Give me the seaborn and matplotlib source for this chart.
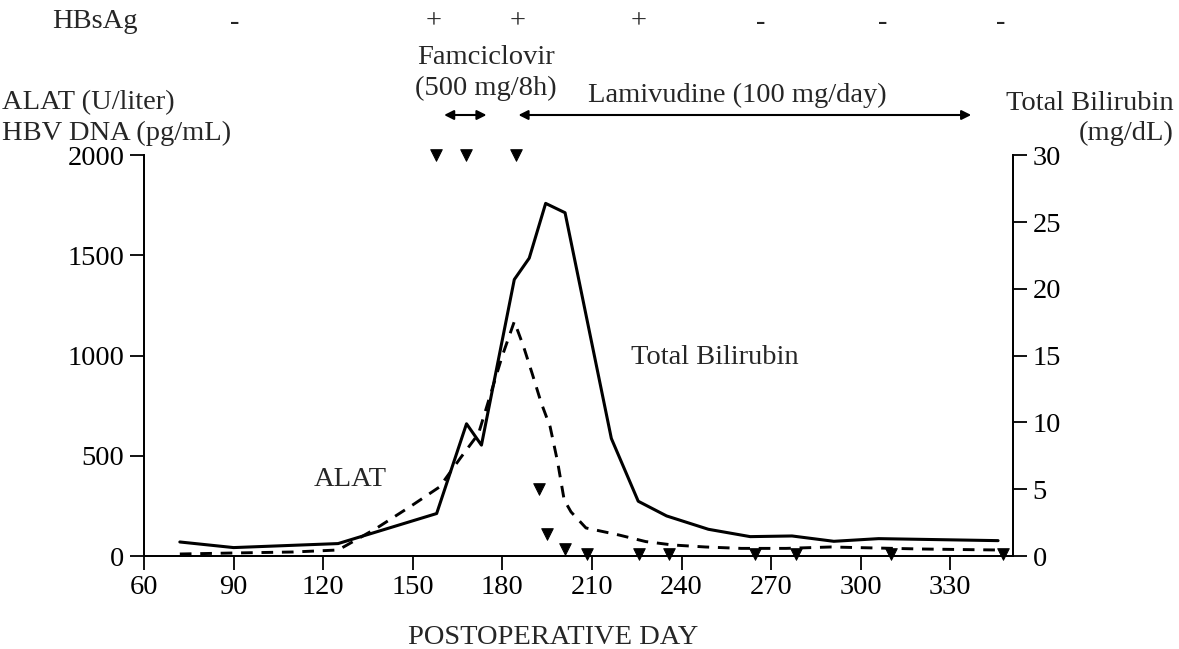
import numpy as np
import pandas as pd
import matplotlib
matplotlib.use('Agg')
import matplotlib.pyplot as plt
import seaborn as sns

# values
# total bilirubin (mg/dL, right axis)
bili_days = [72, 90, 125, 158, 168, 173, 184, 189, 194.5, 201, 216.5, 225.5, 235, 249, 263, 277, 291, 306, 346]
bili_vals = [1.05, 0.63, 0.93, 3.18, 9.9, 8.3, 20.7, 22.3, 26.4, 25.7, 8.8, 4.1, 3.0, 2.0, 1.45, 1.5, 1.1, 1.3, 1.15]

# ALAT (U/liter, left axis)
alat_days = [72, 90, 110, 125, 128, 138, 150, 159, 166, 172, 180, 184, 187, 190, 193, 196, 198.5, 200.7,
             203, 208, 219, 228, 237, 248, 260, 275, 290, 305, 320, 335, 346]
alat_vals = [10, 15, 20, 30, 55, 140, 255, 345, 490, 610, 1000, 1170, 1050, 910, 765, 645, 470, 280,
             220, 140, 105, 72, 55, 45, 38, 38, 45, 40, 35, 32, 30]

# HBV DNA (pg/mL, left axis)
dna_days = [157.7, 167.7, 184.5, 192.2, 195.1, 201, 208.2, 225.8, 235.9, 264.7, 278.3, 310.3, 347.5]
dna_vals = [2000, 2000, 2000, 333, 110, 35, 12, 12, 12, 12, 12, 12, 12]

# HBsAg status row
hbsag_days = [90.5, 157, 185, 225.5, 266.5, 307.5, 347]
hbsag_signs = ['-', '+', '+', '+', '-', '-', '-']

x_ticks = list(range(60, 331, 30))
left_ticks = [0, 500, 1000, 1500, 2000]
right_ticks = [0, 5, 10, 15, 20, 25, 30]

sns.set_theme(style='ticks')
plt.rcParams['font.family'] = ['Liberation Serif', 'DejaVu Serif']
fs = 20.5
W, H = 1179, 649

fig = plt.figure(figsize=(W / 100, H / 100), dpi=100)
ax = fig.add_axes([144 / W, 93 / H, 869 / W, 400.7 / H])
ax2 = ax.twinx()

sns.lineplot(x=alat_days, y=alat_vals, ax=ax, color='black', lw=2.1,
             linestyle=(0, (4, 3)), estimator=None, sort=False)
sns.scatterplot(x=dna_days, y=dna_vals, ax=ax, marker='v', s=70, color='black',
                edgecolor='black', clip_on=False, zorder=5)
sns.lineplot(x=bili_days, y=bili_vals, ax=ax2, color='black', lw=2.2,
             estimator=None, sort=False)

ax.set_xlim(60, 351)
ax.set_ylim(0, 2000)
ax2.set_ylim(0, 30)
ax.set_xticks(x_ticks)
ax.set_yticks(left_ticks)
ax2.set_yticks(right_ticks)
ax.set_xlabel('')
ax.set_ylabel('')
ax2.set_ylabel('')

for a in (ax, ax2):
    a.spines['top'].set_visible(False)
    for s in a.spines.values():
        s.set_linewidth(1.3)
        s.set_color('black')
    a.tick_params(direction='out', length=10, width=1.3, labelsize=fs, colors='black', pad=4)

# header texts
def px(x):
    return x / W

def py(y):
    return 1 - y / H

fig.text(px(95), py(22), 'HBsAg', ha='center', va='center', fontsize=fs)
tr = ax.get_xaxis_transform()
for d, s in zip(hbsag_days, hbsag_signs):
    ax.text(d, (556 - 22) / 400.7, s, transform=tr, ha='center', va='center', fontsize=fs)

fig.text(px(486), py(57), 'Famciclovir', ha='center', va='center', fontsize=fs)
fig.text(px(486), py(88), '(500 mg/8h)', ha='center', va='center', fontsize=fs)
fig.text(px(2), py(103), 'ALAT (U/liter)', ha='left', va='center', fontsize=fs)
fig.text(px(2), py(133), 'HBV DNA (pg/mL)', ha='left', va='center', fontsize=fs)
fig.text(px(737), py(95), 'Lamivudine (100 mg/day)', ha='center', va='center', fontsize=fs)
fig.text(px(1174), py(103), 'Total Bilirubin', ha='right', va='center', fontsize=fs)
fig.text(px(1126), py(133), '(mg/dL)', ha='center', va='center', fontsize=fs)
fig.text(px(553), py(637), 'POSTOPERATIVE DAY', ha='center', va='center', fontsize=fs)

# treatment arrows
arrow_y = (556 - 115) / 400.7
ax.annotate('', xy=(160.5, arrow_y), xytext=(174.7, arrow_y), xycoords=tr, textcoords=tr,
            arrowprops=dict(arrowstyle='<|-|>', lw=1.5, color='black', mutation_scale=14,
                            shrinkA=0, shrinkB=0))
ax.annotate('', xy=(185.4, arrow_y), xytext=(337, arrow_y), xycoords=tr, textcoords=tr,
            arrowprops=dict(arrowstyle='<|-|>', lw=1.5, color='black', mutation_scale=14,
                            shrinkA=0, shrinkB=0))

# series labels
ax.text(129, 380, 'ALAT', ha='center', va='center', fontsize=fs)
ax.text(223, 990, 'Total Bilirubin', ha='left', va='center', fontsize=fs)

fig.savefig('out.png', dpi=100)
